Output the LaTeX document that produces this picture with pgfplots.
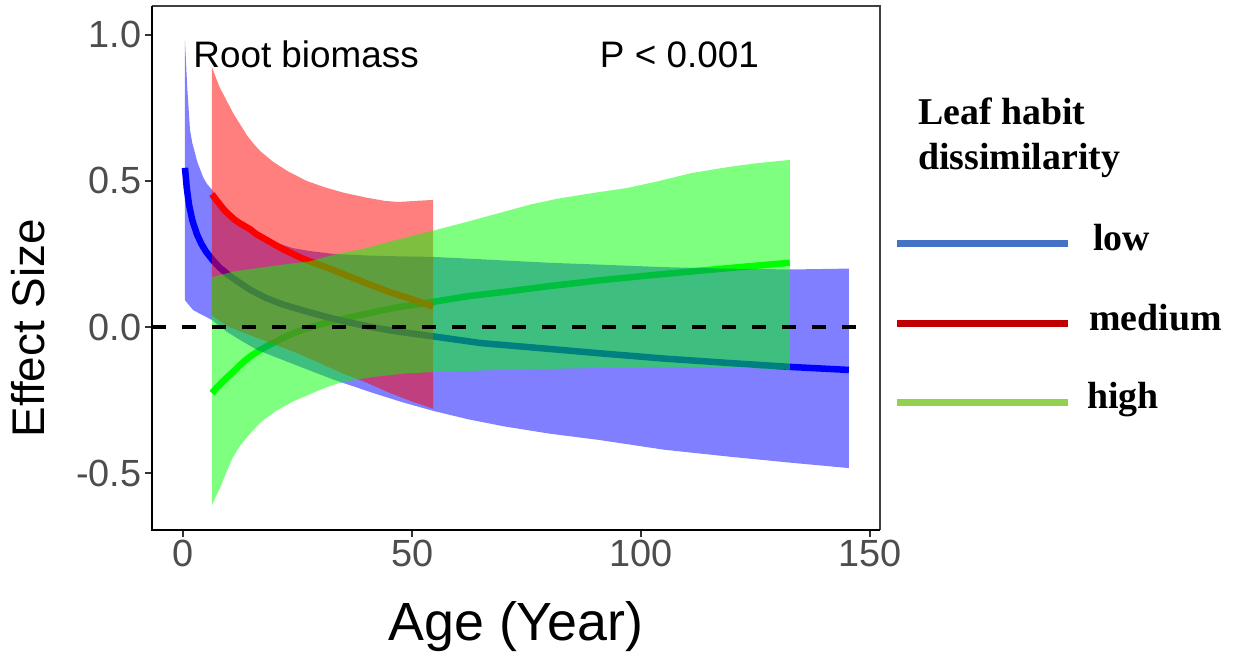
\documentclass[border=0pt]{standalone}
\usepackage{fontspec}
\setmainfont{Liberation Sans}
\newfontfamily\legfont{Liberation Serif}
\usepackage{pgfplots}
\pgfplotsset{compat=1.18}
\definecolor{tickgray}{HTML}{4D4D4D}
\definecolor{legLow}{HTML}{4472C4}
\definecolor{legMed}{HTML}{C00000}
\definecolor{legHigh}{HTML}{92D050}
\definecolor{pblue}{rgb}{0,0,1}
\definecolor{pred}{rgb}{1,0,0}
\definecolor{pgreen}{rgb}{0,1,0}
\begin{document}
\begin{tikzpicture}
\useasboundingbox (0,0) rectangle (1233bp,-653bp);
\begin{axis}[
  at={(152bp,-530bp)}, anchor=south west,
  scale only axis, width=728bp, height=524bp,
  xmin=-6.8, xmax=152.2, ymin=-0.695, ymax=1.099,
  axis line style={draw=none},
  clip=false,
  tick pos=left, tick align=outside,
  major tick length=7bp,
  tick style={line width=2bp, color=black!80},
  xtick={0,50,100,150}, xticklabels={0,50,100,150},
  ytick={-0.5,0,0.5,1}, yticklabels={-0.5,0.0,0.5,1.0},
  /pgf/number format/assume math mode=true,
  tick label style={font=\fontsize{38}{40}\selectfont, text=tickgray},
  xlabel={Age (Year)}, ylabel={Effect Size},
  xlabel style={at={(rel axis cs:0.5,-0.21)}, anchor=base, font=\fontsize{54}{56}\selectfont},
  ylabel style={at={(rel axis cs:-0.147,0.385)}, anchor=base, font=\fontsize{46}{48}\selectfont},
]
% green mean line (drawn first, under the other bands)
\addplot[pgreen, line width=6.5bp] coordinates {(6.3,-0.226) (7.3,-0.208) (8.5,-0.19) (9.7,-0.171) (10.9,-0.154) (12.2,-0.134) (13.5,-0.115) (15,-0.097) (16.8,-0.079) (18.5,-0.064) (20,-0.052) (22,-0.036) (24,-0.022) (26,-0.01) (28,0.0) (30.5,0.011) (33,0.022) (36.5,0.034) (40,0.045) (43.5,0.057) (47,0.068) (50.8,0.077) (54.6,0.086) (62,0.105) (70,0.12) (80,0.14) (91,0.16) (102,0.177) (113,0.193) (123,0.207) (132.5,0.22)};
% blue band (low)
\addplot[draw=none, fill=pblue, fill opacity=0.5] coordinates {(0.4,0.98) (0.9,0.82) (1.5,0.675) (2.0,0.63) (2.6,0.595) (3.1,0.565) (3.7,0.54) (4.4,0.512) (5.2,0.49) (6.3,0.47) (7,0.45) (8,0.43) (9,0.41) (10,0.39) (12,0.36) (14.6,0.33) (17,0.31) (20,0.29) (24,0.27) (27.7,0.26) (33,0.25) (40,0.245) (47,0.242) (54.6,0.24) (65,0.232) (80,0.22) (92,0.213) (105,0.205) (118,0.2) (133,0.197) (145.4,0.2)
 (145.4,-0.483) (133,-0.465) (120,-0.445) (105,-0.42) (91,-0.387) (80,-0.365) (70,-0.34) (62,-0.315) (54.6,-0.287) (48,-0.258) (41.5,-0.226) (32.8,-0.18) (23.4,-0.123) (16.2,-0.079) (12.5,-0.045) (9.6,-0.017) (7.8,0.005) (6.3,0.024) (5,0.035) (3.7,0.045) (2.2,0.058) (1,0.08) (0.4,0.092)};
% blue mean line
\addplot[pblue, line width=6.5bp] coordinates {(0.4,0.545) (0.8,0.475) (1.3,0.418) (2,0.366) (3,0.318) (4,0.284) (5,0.258) (6.5,0.228) (8,0.203) (10,0.177) (12,0.155) (14.6,0.128) (18,0.1) (22,0.076) (25.5,0.06) (30,0.04) (35,0.02) (41,0.0) (47,-0.016) (54.6,-0.032) (65,-0.055) (80,-0.075) (91,-0.09) (105,-0.108) (120,-0.124) (133,-0.137) (145.4,-0.147)};
% red band (medium)
\addplot[draw=none, fill=pred, fill opacity=0.5] coordinates {(6.3,0.89) (7,0.86) (8,0.82) (9,0.79) (10,0.76) (11,0.73) (12.4,0.695) (14,0.655) (15.5,0.625) (17,0.6) (19.7,0.565) (23,0.532) (27,0.5) (31,0.478) (35,0.46) (40,0.443) (44,0.432) (47,0.428) (51,0.432) (54.6,0.435)
 (54.6,-0.28) (50,-0.255) (45,-0.225) (40,-0.19) (35,-0.16) (30,-0.125) (25,-0.09) (20,-0.06) (15,-0.03) (10,0.0) (8,0.02) (6.3,0.04)};
% red mean line
\addplot[pred, line width=6.5bp] coordinates {(6.3,0.455) (7,0.44) (8,0.42) (9,0.4) (10,0.385) (11.2,0.368) (12.4,0.355) (14.6,0.335) (16,0.318) (18,0.3) (20,0.282) (22,0.265) (24,0.25) (26,0.235) (29,0.217) (32,0.2) (36,0.175) (40,0.15) (45,0.12) (50,0.095) (54.6,0.07)};
% green band (high)
\addplot[draw=none, fill=pgreen, fill opacity=0.5] coordinates {(6.3,0.17) (11,0.19) (20,0.21) (27.7,0.225) (32.8,0.247) (40,0.27) (47,0.3) (54.6,0.33) (62,0.36) (69,0.39) (76,0.42) (82,0.44) (90,0.46) (97,0.476) (104,0.5) (111,0.527) (120,0.55) (126,0.562) (132.5,0.572)
 (132.5,-0.147) (123,-0.14) (113,-0.137) (91,-0.14) (69,-0.147) (54.6,-0.154) (48,-0.16) (41.5,-0.171) (38,-0.18) (34,-0.192) (31,-0.208) (27.7,-0.23) (24,-0.255) (20.5,-0.285) (17,-0.325) (14.6,-0.365) (12.5,-0.405) (10.9,-0.445) (9.5,-0.495) (8.1,-0.55) (7,-0.585) (6.3,-0.61)};
% zero reference line
\addplot[black, line width=3.5bp, dash pattern=on 14bp off 16bp] coordinates {(-6.8,0) (149.6,0)};
% panel border
\draw[black!75, line width=1.4bp] (rel axis cs:0,1) -- (rel axis cs:1,1) -- (rel axis cs:1,0);
\draw[black, line width=2.6bp] (rel axis cs:0,1) -- (rel axis cs:0,0) -- (rel axis cs:1,0);
% annotations
\node[anchor=base west, inner sep=0, font=\fontsize{37}{40}\selectfont] at (axis cs:2.2,0.887) {Root biomass};
\node[anchor=base west, inner sep=0, font=\fontsize{37}{40}\selectfont] at (axis cs:91,0.887) {P < 0.001};
\end{axis}
% legend
\node[anchor=base west, inner sep=0, font=\legfont\bfseries\fontsize{38}{40}\selectfont] at (918bp,-124bp) {Leaf habit};
\node[anchor=base west, inner sep=0, font=\legfont\bfseries\fontsize{38}{40}\selectfont] at (918bp,-169bp) {dissimilarity};
\draw[legLow, line width=7bp] (897bp,-243bp) -- (1068bp,-243bp);
\draw[legMed, line width=7bp] (897bp,-323bp) -- (1068bp,-323bp);
\draw[legHigh, line width=7bp] (897bp,-402bp) -- (1068bp,-402bp);
\node[anchor=base west, inner sep=0, font=\legfont\bfseries\fontsize{38}{40}\selectfont] at (1093bp,-250bp) {low};
\node[anchor=base west, inner sep=0, font=\legfont\bfseries\fontsize{38}{40}\selectfont] at (1089bp,-330bp) {medium};
\node[anchor=base west, inner sep=0, font=\legfont\bfseries\fontsize{38}{40}\selectfont] at (1087bp,-408bp) {high};
\end{tikzpicture}
\end{document}
